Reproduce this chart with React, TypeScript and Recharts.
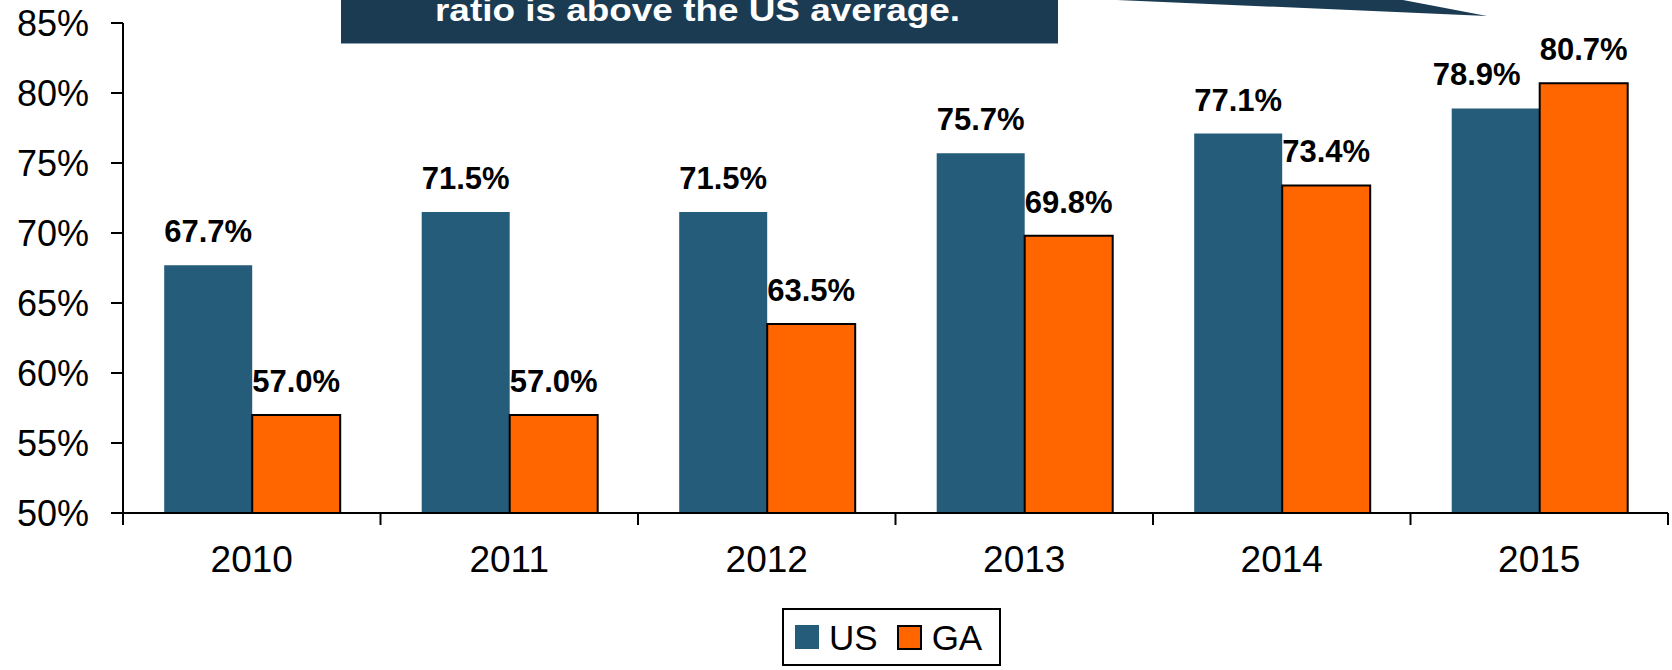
import { BarChart, Bar, XAxis, YAxis, LabelList } from 'recharts'

const years = ['2010', '2011', '2012', '2013', '2014', '2015']
const usValues = [67.7, 71.5, 71.5, 75.7, 77.1, 78.9]
const gaValues = [57.0, 57.0, 63.5, 69.8, 73.4, 80.7]
const yTicks = [50, 55, 60, 65, 70, 75, 80, 85]
const seriesNames = ['US', 'GA']
const calloutText = 'ratio is above the US average.'

const US_COLOR = '#245c7a'
const GA_COLOR = '#ff6600'
const NAVY = '#1b3b52'
const FONT = '"Liberation Sans", Arial, sans-serif'

const W = 1672
const H = 670
const PLOT_LEFT = 123
const PLOT_RIGHT = 1668
const BAND = (PLOT_RIGHT - PLOT_LEFT) / years.length

const data = years.map((year, i) => ({ year, US: usValues[i], GA: gaValues[i] }))

function XTick(props: any) {
    const { x, y, payload, index } = props
    const left = x - BAND / 2
    return (
        <g>
            <line x1={left} y1={y} x2={left} y2={y + 12} stroke="#000" strokeWidth={2} />
            {index === years.length - 1 && (
                <line x1={left + BAND} y1={y} x2={left + BAND} y2={y + 12} stroke="#000" strokeWidth={2} />
            )}
            <text x={x} y={y + 59} textAnchor="middle" fontSize={37} fontFamily={FONT} fill="#000">
                {payload.value}
            </text>
        </g>
    )
}

// labels sit a little above each bar; the 2015 US one is nudged left so it clears GA
function makeLabel(series: string) {
    return (props: any) => {
        const { x, y, width, value, index } = props
        const dx = series === 'US' && index === years.length - 1 ? -19 : 0
        return (
            <text
                x={x + width / 2 + dx}
                y={y - 23}
                textAnchor="middle"
                fontSize={31}
                fontWeight="bold"
                fontFamily={FONT}
                fill="#000"
            >
                {Number(value).toFixed(1)}%
            </text>
        )
    }
}

export default function App() {
    return (
        <div style={{ position: 'absolute', left: 0, top: 0, width: W, height: H, background: '#fff', fontFamily: FONT }}>
            <BarChart
                width={W}
                height={H}
                data={data}
                margin={{ top: 23, right: W - PLOT_RIGHT, bottom: 57, left: 0 }}
                barCategoryGap="16%"
                barGap={0}
            >
                <XAxis
                    dataKey="year"
                    height={100}
                    axisLine={{ stroke: '#000', strokeWidth: 2 }}
                    tickLine={false}
                    tickSize={0}
                    tickMargin={0}
                    tick={<XTick />}
                    interval={0}
                />
                <YAxis
                    width={PLOT_LEFT}
                    domain={[50, 85]}
                    ticks={yTicks}
                    allowDataOverflow
                    axisLine={{ stroke: '#000', strokeWidth: 2 }}
                    tickLine={{ stroke: '#000', strokeWidth: 2 }}
                    tickSize={12}
                    tickMargin={22}
                    tickFormatter={(v: number) => `${v}%`}
                    tick={{ fontSize: 36, fontFamily: FONT, fill: '#000' }}
                />
                <Bar dataKey="US" fill={US_COLOR} isAnimationActive={false}>
                    <LabelList dataKey="US" content={makeLabel('US')} />
                </Bar>
                <Bar dataKey="GA" fill={GA_COLOR} stroke="#000" strokeWidth={2} isAnimationActive={false}>
                    <LabelList dataKey="GA" content={makeLabel('GA')} />
                </Bar>
            </BarChart>

            {/* callout box cut off at the top of the frame */}
            <svg width={W} height={50} style={{ position: 'absolute', left: 0, top: 0 }}>
                <polygon points="1117,0 1403,0 1487,16" fill={NAVY} />
                <rect x={341} y={-10} width={717} height={53} fill={NAVY} />
                <line x1={341} y1={43.5} x2={1058} y2={43.5} stroke="#8ba1b3" strokeWidth={1} />
                <text
                    x={435}
                    y={21}
                    textLength={525}
                    lengthAdjust="spacingAndGlyphs"
                    fontSize={31}
                    fontWeight="bold"
                    fontFamily={FONT}
                    fill="#fff"
                >
                    {calloutText}
                </text>
            </svg>

            {/* legend */}
            <div
                style={{
                    position: 'absolute',
                    left: 782,
                    top: 608,
                    width: 204,
                    height: 54,
                    border: '2px solid #000',
                    display: 'flex',
                    alignItems: 'center',
                    paddingLeft: 11,
                    boxSizing: 'content-box',
                    fontSize: 35,
                    color: '#000',
                }}
            >
                {seriesNames.map((name, i) => (
                    <div key={name} style={{ display: 'flex', alignItems: 'center', marginRight: i === 0 ? 19 : 0 }}>
                        <div
                            style={{
                                width: i === 0 ? 24 : 21,
                                height: i === 0 ? 24 : 21,
                                background: i === 0 ? US_COLOR : GA_COLOR,
                                border: i === 0 ? 'none' : '2px solid #000',
                                marginRight: 10,
                            }}
                        />
                        <span style={{ lineHeight: 1 }}>{name}</span>
                    </div>
                ))}
            </div>
        </div>
    )
}
